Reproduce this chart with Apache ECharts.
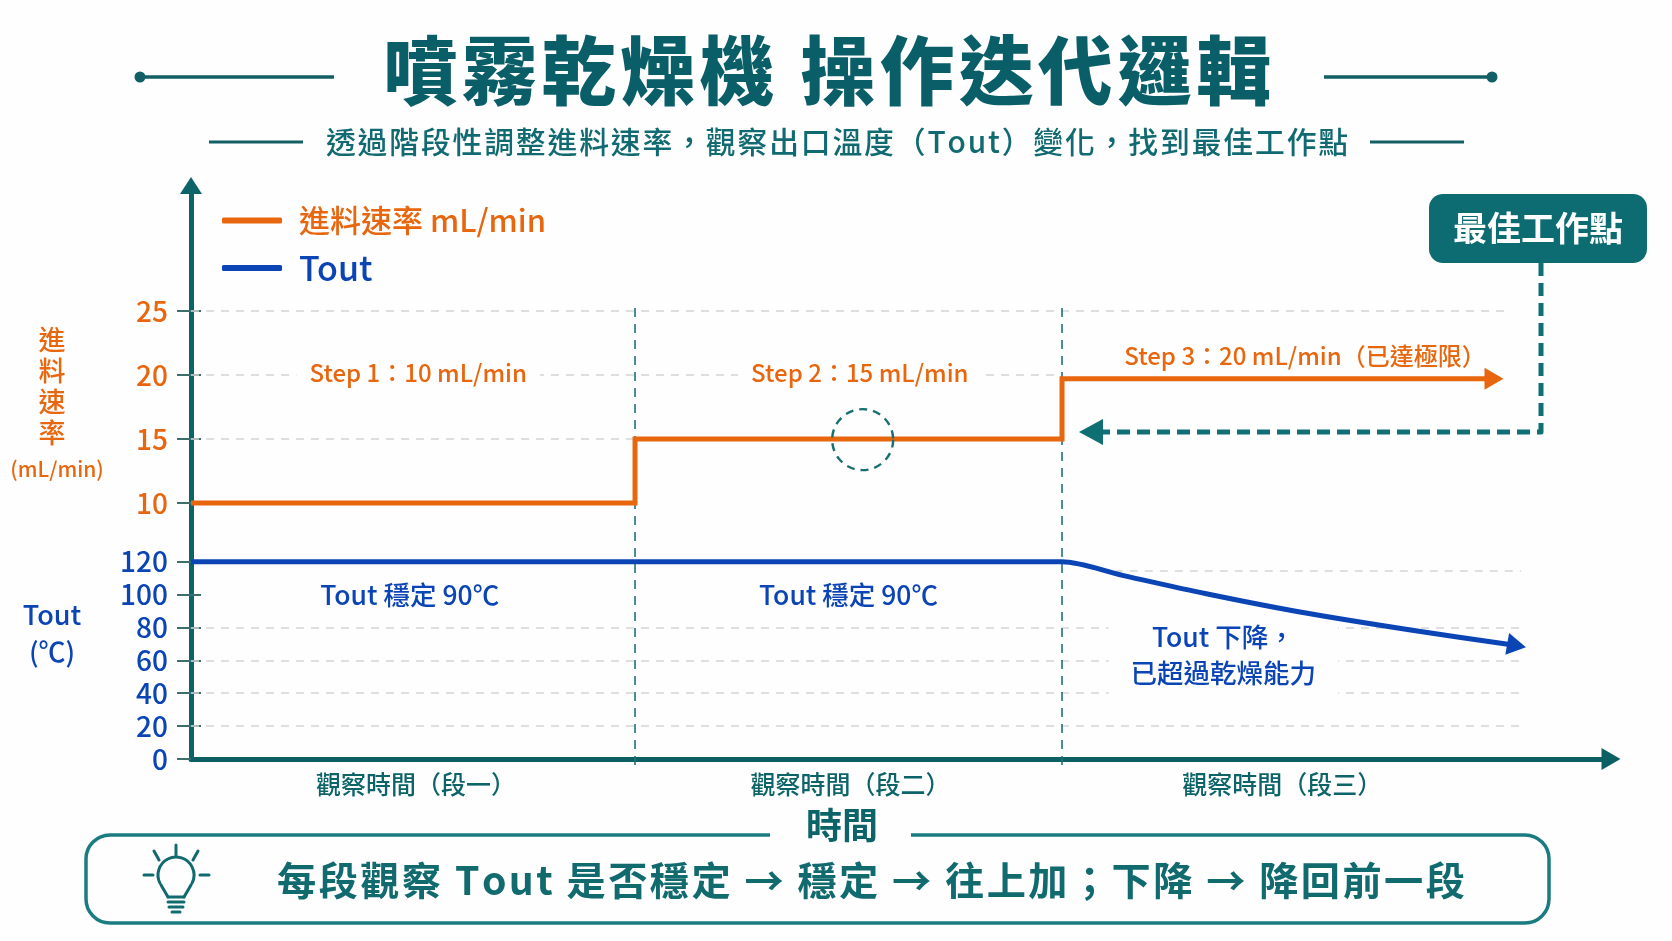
<!DOCTYPE html>
<html lang="zh-Hant"><head><meta charset="utf-8">
<style>html,body{margin:0;padding:0;background:#fff}#c{width:1672px;height:941px}</style>
<script src="https://cdn.jsdelivr.net/npm/echarts@6/dist/echarts.min.js"></script>
</head><body><div id="c"></div>
<script>
// ---- data ----
const feedName = '進料速率 mL/min';
const toutName = 'Tout';
const feedTime = [0, 31.27, 31.27, 61.34, 61.34, 91.76];
const feedRate = [10, 10, 15, 15, 19.7, 19.7];
const toutTime = [0, 60, 61.34, 65.6, 71.5, 78.1, 86, 93.35];
const toutTemp = [120, 120, 120, 111.7, 100.5, 89.4, 78.3, 69];
const segmentEdges = [31.27, 61.34];
const segmentCentres = [15.85, 46.45, 76.85];
const segmentLabels = ['觀察時間（段一）', '觀察時間（段二）', '觀察時間（段三）'];
const feedTicks = [10, 15, 20, 25];
const toutTicks = [0, 20, 40, 60, 80, 100, 120];
const feedGridLines = [[25, 0, 92.6], [20, 0, 61.34], [15, 0, 61.34], [10, 31.27, 93.66]];
const toutGridLines = [[114.7, 64, 93.66], [80, 0, 93.66], [60, 0, 93.66], [40, 0, 93.66], [20, 0, 93.66]];
const feedNotes = [[16, 20.15, 'Step 1：10 mL/min'], [47.1, 20.15, 'Step 2：15 mL/min'], [78.45, 21.5, 'Step 3：20 mL/min（已達極限）']];
const toutNotes = [[15.4, 100, 'Tout 穩定 90℃'], [46.3, 100, 'Tout 穩定 90℃'], [72.7, 63.3, 'Tout 下降，\n已超過乾燥能力']];
const focusPoint = [[47.3, 14.95]];

// ---- style ----
const FONT = '"Noto Sans CJK TC","Noto Sans",sans-serif';
const TEAL = '#0C6468', ORANGE = '#E8660E', BLUE = '#0B44B4', GRID = '#d4d6d5', TICK = '#3c6e6e';
const L = 191, U = 14.2;               // axis origin and px per time unit
const sp = (s, n = 1) => [...s].join('\u200a'.repeat(n));
const pair = row => [{ xAxis: row[1], yAxis: row[0] }, { xAxis: row[2], yAxis: row[0] }];
const hiddenX = (i, max) => ({ type: 'value', gridIndex: i, min: 0, max, show: false });
const innerTicks = (i, min, max, interval, custom) => ({
  type: 'value', gridIndex: i, min, max, interval, position: 'left',
  axisLine: { show: false }, axisLabel: { show: false }, splitLine: { show: false },
  axisTick: { show: true, inside: true, length: 10, customValues: custom, lineStyle: { color: TICK, width: 2 } }
});
const tickAxis = (i, min, max, interval, color) => ({
  type: 'value', gridIndex: i, min, max, interval, position: 'left',
  axisLine: { show: false }, splitLine: { show: false },
  axisTick: { show: true, length: 14, lineStyle: { color: TICK, width: 2 } },
  axisLabel: { margin: 23, color, fontFamily: FONT, fontSize: 28, fontWeight: 500, showMinLabel: true, showMaxLabel: true }
});
const gridSeries = (x, y, rows) => ({
  type: 'line', xAxisIndex: x, yAxisIndex: y, data: [], z: 1, silent: true,
  markLine: { z: 1, silent: true, symbol: 'none', label: { show: false }, animation: false,
    lineStyle: { color: GRID, type: [8, 7], width: 1.6 }, data: rows.map(pair) }
});
const noteSeries = (x, y, rows, color, fontSize, padding) => ({
  type: 'scatter', xAxisIndex: x, yAxisIndex: y, symbolSize: 0, z: 3, silent: true,
  itemStyle: { opacity: 1 },
  data: rows.map(r => ({ value: [r[0], r[1]], note: r[2] })),
  label: { show: true, position: 'inside', formatter: p => p.data.note, color, fontFamily: FONT, opacity: 1,
    fontSize, fontWeight: 500, backgroundColor: '#fefefe', padding, lineHeight: 36 },
  labelLayout: { hideOverlap: false }
});
const ln = (x1, y1, x2, y2) => ({ type: 'line', shape: { x1, y1, x2, y2 }, style: { stroke: '#116A6E', lineWidth: 3, lineCap: 'round' } });

const option = {
  animation: false, backgroundColor: '#fefefe',
  title: [
    { text: sp('噴霧乾燥機 操作迭代邏輯', 1), left: 822, top: 28, textAlign: 'center',
      textStyle: { color: '#0A5E68', fontFamily: FONT, fontWeight: 900, fontSize: 74.5 } },
    { text: sp('透過階段性調整進料速率，觀察出口溫度（Tout）變化，找到最佳工作點', 1), left: 832, top: 122, textAlign: 'center',
      textStyle: { color: '#116A72', fontFamily: FONT, fontWeight: 500, fontSize: 29.8 } }
  ],
  legend: {
    left: 217, top: 200, orient: 'vertical', itemWidth: 60, itemHeight: 6, itemGap: 15, icon: 'roundRect',
    data: [
      { name: feedName, textStyle: { color: ORANGE } },
      { name: toutName, textStyle: { color: BLUE, fontSize: 34 } }
    ],
    textStyle: { fontFamily: FONT, fontSize: 31, fontWeight: 500, padding: [0, 0, 0, 12] }
  },
  grid: [
    { left: L, width: 92.6 * U, top: 311, height: 192 },
    { left: L, width: 93.66 * U, top: 561.7, height: 197.3 },
    { left: L, width: 100 * U, top: 185.5, height: 573.5 },
    { left: L, width: 100 * U, top: 306, height: 459 }
  ],
  xAxis: [
    hiddenX(0, 92.6), hiddenX(1, 93.66),
    { type: 'value', gridIndex: 2, min: 0, max: 100, position: 'bottom',
      axisLine: { show: true, symbol: ['none', 'triangle'], symbolSize: [22, 19], lineStyle: { color: '#0C5F62', width: 5 } },
      axisTick: { show: false }, splitLine: { show: false },
      axisLabel: { show: true, customValues: segmentCentres, margin: 13,
        formatter: v => segmentLabels[segmentCentres.indexOf(v)],
        color: TEAL, fontFamily: FONT, fontSize: 25, fontWeight: 500 } },
    hiddenX(3, 100)
  ],
  yAxis: [
    tickAxis(0, 10, 25, 5, ORANGE),
    tickAxis(1, 0, 120, 20, BLUE),
    { type: 'value', gridIndex: 2, min: 0, max: 1, position: 'left',
      axisLine: { show: true, symbol: ['none', 'triangle'], symbolSize: [22, 17], lineStyle: { color: '#0C6468', width: 5 } },
      axisTick: { show: false }, axisLabel: { show: false }, splitLine: { show: false } },
    { type: 'value', gridIndex: 3, min: 0, max: 1, show: false },
    innerTicks(0, 10, 25, 5, feedTicks),
    innerTicks(1, 0, 120, 20, toutTicks.slice(1))
  ],
  series: [
    gridSeries(0, 0, feedGridLines),
    gridSeries(1, 1, toutGridLines),
    { type: 'line', xAxisIndex: 3, yAxisIndex: 3, data: [], z: 2, silent: true,
      markLine: { z: 2, silent: true, symbol: 'none', label: { show: false }, animation: false,
        lineStyle: { color: '#1E7478', type: [9, 7], width: 1.6 },
        data: segmentEdges.map(v => ({ xAxis: v })) } },
    noteSeries(0, 0, feedNotes, ORANGE, 24, [2, 13]),
    noteSeries(1, 1, toutNotes, BLUE, 26.5, [4, 22]),
    { type: 'scatter', name: 'focus', xAxisIndex: 0, yAxisIndex: 0, data: focusPoint, symbolSize: 61, z: 5, silent: true,
      itemStyle: { opacity: 1, color: 'transparent', borderColor: '#17706F', borderWidth: 2.4, borderType: [8, 6] } },
    { type: 'line', name: feedName, xAxisIndex: 0, yAxisIndex: 0, z: 4, clip: false, showSymbol: true,
      symbol: 'none', color: ORANGE, lineStyle: { color: ORANGE, width: 5, join: 'miter' }, itemStyle: { color: ORANGE },
      data: feedTime.map((t, i) => i === feedTime.length - 1
        ? { value: [t, feedRate[i]], symbol: 'triangle', symbolSize: [22, 19], symbolRotate: -90 }
        : { value: [t, feedRate[i]] }) },
    { type: 'line', name: toutName, xAxisIndex: 1, yAxisIndex: 1, z: 4, clip: false, smooth: 0.3, showSymbol: true,
      symbol: 'none', color: BLUE, lineStyle: { color: BLUE, width: 5 }, itemStyle: { color: BLUE },
      data: toutTime.map((t, i) => i === toutTime.length - 1
        ? { value: [t, toutTemp[i]], symbol: 'triangle', symbolSize: [22, 19], symbolRotate: -100 }
        : { value: [t, toutTemp[i]] }) }
  ],
  graphic: { elements: [
    // header rules
    { type: 'line', shape: { x1: 140, y1: 77, x2: 334, y2: 77 }, style: { stroke: '#125F66', lineWidth: 3.5 } },
    { type: 'circle', shape: { cx: 140, cy: 77, r: 5.5 }, style: { fill: '#125F66' } },
    { type: 'line', shape: { x1: 1324, y1: 77, x2: 1492, y2: 77 }, style: { stroke: '#125F66', lineWidth: 3.5 } },
    { type: 'circle', shape: { cx: 1492, cy: 77, r: 5.5 }, style: { fill: '#125F66' } },
    { type: 'line', shape: { x1: 209, y1: 142, x2: 303, y2: 142 }, style: { stroke: '#125F66', lineWidth: 3 } },
    { type: 'line', shape: { x1: 1370, y1: 142, x2: 1464, y2: 142 }, style: { stroke: '#125F66', lineWidth: 3 } },
    // axis titles
    ...['進', '料', '速', '率'].map((c, i) => ({ type: 'text', x: 52, y: 340 + i * 31, style: { text: c, fill: ORANGE, font: '500 27px ' + FONT, align: 'center', verticalAlign: 'middle' } })),
    { type: 'text', x: 57, y: 469, style: { text: '(mL/min)', fill: ORANGE, font: '500 21px ' + FONT, align: 'center', verticalAlign: 'middle' } },
    { type: 'text', x: 52, y: 615, style: { text: 'Tout', fill: BLUE, font: '500 27px ' + FONT, align: 'center', verticalAlign: 'middle' } },
    { type: 'text', x: 52, y: 652, style: { text: '(℃)', fill: BLUE, font: '500 27px ' + FONT, align: 'center', verticalAlign: 'middle' } },
    // best point badge and connector
    { type: 'polyline', shape: { points: [[1541, 263], [1541, 432], [1100, 432]] }, z: 6,
      style: { fill: 'none', stroke: '#0E6F74', lineWidth: 5, lineDash: [13, 7], lineJoin: 'round' } },
    { type: 'polygon', shape: { points: [[1079, 432], [1103, 419], [1103, 445]] }, z: 6, style: { fill: '#0E6F74' } },
    { type: 'rect', shape: { x: 1429, y: 194, width: 218, height: 69, r: 14 }, z: 6, style: { fill: '#0D6C71' } },
    { type: 'text', x: 1538, y: 228, z: 7, style: { text: '最佳工作點', fill: '#fff', font: '700 34px ' + FONT, align: 'center', verticalAlign: 'middle' } },
    // summary box
    { type: 'rect', shape: { x: 86, y: 835, width: 1463, height: 88, r: 24 }, style: { fill: 'none', stroke: '#1B7C80', lineWidth: 3.5 } },
    { type: 'rect', shape: { x: 770, y: 825, width: 141, height: 20 }, style: { fill: '#fefefe' } },
    { type: 'text', x: 842, y: 825, style: { text: '時間', fill: TEAL, font: '700 36px ' + FONT, align: 'center', verticalAlign: 'middle' } },
    { type: 'text', x: 871, y: 880, style: { text: sp('每段觀察 Tout 是否穩定 → 穩定 → 往上加；下降 → 降回前一段', 1), fill: '#116A6E', font: '700 39.2px ' + FONT, align: 'center', verticalAlign: 'middle' } },
    // light bulb
    ln(176, 845, 176, 855), ln(154, 851, 159, 860), ln(198, 851, 193, 860), ln(144, 875, 153, 875), ln(200, 875, 209, 875),
    { type: 'arc', shape: { cx: 176, cy: 875, r: 18, startAngle: Math.PI * 0.85, endAngle: Math.PI * 0.15, clockwise: true }, style: { fill: 'none', stroke: '#116A6E', lineWidth: 3, lineCap: 'round' } },
    ln(161, 885, 168, 897), ln(191, 885, 184, 897), ln(168, 897, 184, 897),
    ln(168, 902, 184, 902), ln(169, 907, 183, 907), ln(172, 912, 180, 912)
  ] }
};
echarts.init(document.getElementById('c')).setOption(option);
</script></body></html>
